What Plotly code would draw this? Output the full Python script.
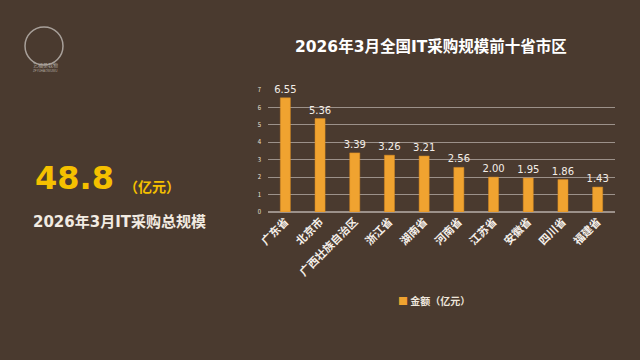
import plotly.graph_objects as go

categories = ["广东省", "北京市", "广西壮族自治区", "浙江省", "湖南省", "河南省", "江苏省", "安徽省", "四川省", "福建省"]
values = [6.55, 5.36, 3.39, 3.26, 3.21, 2.56, 2.00, 1.95, 1.86, 1.43]
tick_vals = [0, 1, 2, 3, 4, 5, 6, 7]
series_name = "金额（亿元）"
total_value = "48.8"
total_unit = "（亿元）"
total_label = "2026年3月IT采购总规模"
chart_title = "2026年3月全国IT采购规模前十省市区"

BG = "#4a3a2f"
BAR = "#f0a330"
TXT = "#eee6dc"
FONT = "Noto Sans CJK SC"
MIX = "DejaVu Sans, Noto Sans CJK SC"

L, R, T, B = 268, 25, 90, 148
pw = 640 - L - R
ph = 360 - T - B


def px(x):
    return (x - L) / pw


def py(y):
    return (360 - B - y) / ph


fig = go.Figure()
fig.add_trace(go.Bar(
    x=categories, y=values, name=series_name,
    marker=dict(color=BAR, line=dict(color="#d98a20", width=0.5)),
    width=0.29,
    text=[f"{v:.2f}" for v in values], textposition="outside",
    textfont=dict(color="#f4eee8", size=10, family="DejaVu Sans"),
    constraintext="none",
    cliponaxis=False,
    showlegend=False,
))

annotations = [
    dict(text=f"<b>{chart_title}</b>", x=px(431), y=py(47), xanchor="center",
         font=dict(size=15.5, color="#ffffff", family=MIX)),
    dict(text=f"<b>{total_value}</b>", x=px(33), y=py(178), xanchor="left",
         font=dict(size=32, color="#f5c000", family="DejaVu Sans")),
    dict(text=f"<b>{total_unit}</b>", x=px(122), y=py(186), xanchor="left",
         font=dict(size=14, color="#f5c000", family=FONT)),
    dict(text=f"<b>{total_label}</b>", x=px(31), y=py(222), xanchor="left",
         font=dict(size=15, color="#f2ebe2", family=MIX)),
    dict(text="艺福昊我物", x=px(45), y=py(65), xanchor="center",
         font=dict(size=5, color="#b0a8a0", family=FONT)),
    dict(text="ZFYUHAOWUWU", x=px(45), y=py(71), xanchor="center",
         font=dict(size=3, color="#b0a8a0", family="Liberation Sans")),
    dict(text=f"<span style='color:{BAR}'>■</span> <b>{series_name}</b>",
         x=px(396), y=py(300), xanchor="left",
         font=dict(size=10, color=TXT, family=FONT)),
]
for a in annotations:
    a.update(xref="paper", yref="paper", showarrow=False, yanchor="middle")

cx, cy, r = 44, 46, 19

fig.update_layout(
    width=640, height=360,
    paper_bgcolor=BG, plot_bgcolor=BG,
    margin=dict(l=L, r=R, t=T, b=B),
    font=dict(family=FONT, color=TXT),
    xaxis=dict(
        tickangle=-45, tickfont=dict(size=11, color="#f4eee8", family=FONT, weight="bold"),
        showgrid=False, zeroline=False, showline=False, ticks="",
    ),
    yaxis=dict(
        range=[0, 7], tickvals=tick_vals, tickfont=dict(size=6, color=TXT),
        showgrid=True, gridcolor="#9c918a", gridwidth=1,
        zeroline=True, zerolinecolor="#9c918a", zerolinewidth=1.5,
        showline=False, ticks="", ticklabelstandoff=6,
    ),
    showlegend=False,
    annotations=annotations,
    shapes=[
        dict(type="circle", xref="paper", yref="paper",
             x0=px(cx - r), x1=px(cx + r), y0=py(cy + r), y1=py(cy - r),
             line=dict(color="#a8a09a", width=1.5)),
    ],
)

fig.write_html(
    "out.html",
    config={"displayModeBar": False},
    post_script="document.body.style.margin='0';document.body.style.background='" + BG + "';",
)
